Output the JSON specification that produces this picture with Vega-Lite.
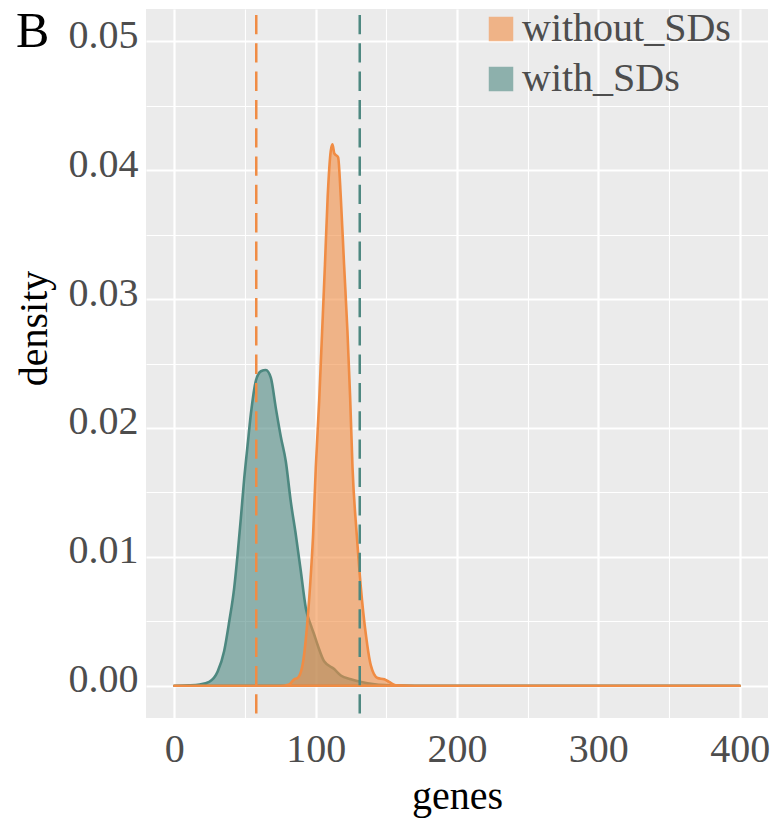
{
  "$schema": "https://vega.github.io/schema/vega-lite/v6.json",
  "width": 622,
  "height": 709,
  "autosize": {"type": "none"},
  "padding": {"left": 146, "top": 9, "right": 11, "bottom": 102},
  "background": "white",
  "config": {
    "view": {"fill": "#EBEBEB", "stroke": null},
    "font": "Liberation Serif"
  },
  "title": {
    "text": "B",
    "anchor": "start",
    "frame": "group",
    "orient": "top",
    "offset": -89,
    "dx": -130,
    "fontSize": 50,
    "font": "Liberation Serif",
    "fontWeight": "normal",
    "color": "black",
    "baseline": "alphabetic"
  },
  "datasets": {
    "curves": [
      {"group": "with_SDs", "genes": 0, "density": 0},
      {"group": "with_SDs", "genes": 10, "density": 0.00003},
      {"group": "with_SDs", "genes": 18, "density": 0.0001},
      {"group": "with_SDs", "genes": 24.7, "density": 0.0003},
      {"group": "with_SDs", "genes": 30.7, "density": 0.0011},
      {"group": "with_SDs", "genes": 35.3, "density": 0.0027},
      {"group": "with_SDs", "genes": 38.9, "density": 0.005},
      {"group": "with_SDs", "genes": 42.4, "density": 0.0076},
      {"group": "with_SDs", "genes": 44.8, "density": 0.0102},
      {"group": "with_SDs", "genes": 47.1, "density": 0.013},
      {"group": "with_SDs", "genes": 49.5, "density": 0.0161},
      {"group": "with_SDs", "genes": 51.9, "density": 0.0187},
      {"group": "with_SDs", "genes": 54.2, "density": 0.0211},
      {"group": "with_SDs", "genes": 57.8, "density": 0.0237},
      {"group": "with_SDs", "genes": 61.3, "density": 0.0244},
      {"group": "with_SDs", "genes": 64.8, "density": 0.0245},
      {"group": "with_SDs", "genes": 68.3, "density": 0.0239},
      {"group": "with_SDs", "genes": 71.9, "density": 0.0215},
      {"group": "with_SDs", "genes": 75.4, "density": 0.0193},
      {"group": "with_SDs", "genes": 78.9, "density": 0.0174},
      {"group": "with_SDs", "genes": 82.4, "density": 0.0143},
      {"group": "with_SDs", "genes": 86, "density": 0.0117},
      {"group": "with_SDs", "genes": 89.5, "density": 0.0089},
      {"group": "with_SDs", "genes": 93.1, "density": 0.006},
      {"group": "with_SDs", "genes": 96.6, "density": 0.0047},
      {"group": "with_SDs", "genes": 98.9, "density": 0.004},
      {"group": "with_SDs", "genes": 101.3, "density": 0.0032},
      {"group": "with_SDs", "genes": 106, "density": 0.0019},
      {"group": "with_SDs", "genes": 113.1, "density": 0.0013},
      {"group": "with_SDs", "genes": 117.8, "density": 0.0008},
      {"group": "with_SDs", "genes": 124.9, "density": 0.0005},
      {"group": "with_SDs", "genes": 136.7, "density": 0.0002},
      {"group": "with_SDs", "genes": 153, "density": 0.00003},
      {"group": "with_SDs", "genes": 170, "density": 0},
      {"group": "with_SDs", "genes": 400, "density": 0},
      {"group": "without_SDs", "genes": 0, "density": 0},
      {"group": "without_SDs", "genes": 75.4, "density": 0},
      {"group": "without_SDs", "genes": 81.3, "density": 0.0001},
      {"group": "without_SDs", "genes": 84.8, "density": 0.0005},
      {"group": "without_SDs", "genes": 87.2, "density": 0.0006},
      {"group": "without_SDs", "genes": 90.7, "density": 0.0016},
      {"group": "without_SDs", "genes": 93.8, "density": 0.0045},
      {"group": "without_SDs", "genes": 96.1, "density": 0.0078},
      {"group": "without_SDs", "genes": 98.2, "density": 0.0117},
      {"group": "without_SDs", "genes": 100.1, "density": 0.0169},
      {"group": "without_SDs", "genes": 102.5, "density": 0.0221},
      {"group": "without_SDs", "genes": 104.6, "density": 0.0275},
      {"group": "without_SDs", "genes": 106.6, "density": 0.0327},
      {"group": "without_SDs", "genes": 108.5, "density": 0.0379},
      {"group": "without_SDs", "genes": 110.7, "density": 0.0415},
      {"group": "without_SDs", "genes": 111.9, "density": 0.042},
      {"group": "without_SDs", "genes": 113.2, "density": 0.0413},
      {"group": "without_SDs", "genes": 115.9, "density": 0.041},
      {"group": "without_SDs", "genes": 117.8, "density": 0.0379},
      {"group": "without_SDs", "genes": 120.1, "density": 0.0327},
      {"group": "without_SDs", "genes": 122.5, "density": 0.0275},
      {"group": "without_SDs", "genes": 124.4, "density": 0.0224},
      {"group": "without_SDs", "genes": 126.1, "density": 0.0169},
      {"group": "without_SDs", "genes": 129.1, "density": 0.0117},
      {"group": "without_SDs", "genes": 132, "density": 0.0076},
      {"group": "without_SDs", "genes": 135.5, "density": 0.004},
      {"group": "without_SDs", "genes": 139, "density": 0.0016},
      {"group": "without_SDs", "genes": 143.8, "density": 0.0006},
      {"group": "without_SDs", "genes": 148.5, "density": 0.0005},
      {"group": "without_SDs", "genes": 152, "density": 0.0003},
      {"group": "without_SDs", "genes": 156.7, "density": 0.00003},
      {"group": "without_SDs", "genes": 170, "density": 0},
      {"group": "without_SDs", "genes": 400, "density": 0}
    ],
    "means": [
      {"group": "without_SDs", "genes": 58},
      {"group": "with_SDs", "genes": 131.2}
    ]
  },
  "layer": [
    {
      "data": {"name": "curves"},
      "transform": [{"filter": "datum.group === 'with_SDs'"}],
      "mark": {"type": "area", "interpolate": "monotone", "fillOpacity": 0.6, "strokeWidth": 2.6, "strokeJoin": "round"},
      "encoding": {
        "x": {
          "field": "genes", "type": "quantitative",
          "scale": {"domain": [-20, 420], "nice": false, "zero": false},
          "axis": {
            "title": "genes",
            "values": [0, 50, 100, 150, 200, 250, 300, 350, 400],
            "format": "d",
            "labelExpr": "datum.value % 100 === 0 ? datum.label : ''",
            "grid": true,
            "gridColor": "white",
            "gridOpacity": 1,
            "gridWidth": {"condition": {"test": "datum.value % 100 === 0", "value": 2.2}, "value": 1.1},
            "ticks": false,
            "tickSize": 0,
            "domain": false,
            "labelFont": "Liberation Serif",
            "labelFontSize": 40,
            "labelColor": "#4D4D4D",
            "labelBaseline": "alphabetic",
            "labelPadding": 43.7,
            "labelOverlap": false,
            "labelFlush": false,
            "titleFont": "Liberation Serif",
            "titleFontSize": 40,
            "titleFontWeight": "normal",
            "titleColor": "black",
            "titleBaseline": "alphabetic",
            "titleAlign": "center",
            "titleX": 311,
            "titleY": 90
          }
        },
        "y": {
          "field": "density", "type": "quantitative",
          "scale": {"domain": [-0.0025, 0.0525], "nice": false, "zero": false},
          "axis": {
            "title": "density",
            "values": [0, 0.005, 0.01, 0.015, 0.02, 0.025, 0.03, 0.035, 0.04, 0.045, 0.05],
            "labelExpr": "round(datum.value * 1000) % 10 === 0 ? format(datum.value, '.2f') : ''",
            "grid": true,
            "gridColor": "white",
            "gridOpacity": 1,
            "gridWidth": {"condition": {"test": "round(datum.value * 1000) % 10 === 0", "value": 2.2}, "value": 1.1},
            "ticks": false,
            "tickSize": 0,
            "domain": false,
            "labelFont": "Liberation Serif",
            "labelFontSize": 40,
            "labelColor": "#4D4D4D",
            "labelAlign": "right",
            "labelBaseline": "alphabetic",
            "labelOffset": 6,
            "labelPadding": 8,
            "labelOverlap": false,
            "labelFlush": false,
            "titleFont": "Liberation Serif",
            "titleFontSize": 40,
            "titleFontWeight": "normal",
            "titleColor": "black",
            "titleAngle": -90,
            "titleBaseline": "alphabetic",
            "titleAlign": "center",
            "titleX": -99.3,
            "titleY": 319
          }
        },
        "fill": {
          "field": "group", "type": "nominal",
          "scale": {"domain": ["without_SDs", "with_SDs"], "range": ["#F28E44", "#4F8982"]},
          "legend": {
            "title": null,
            "orient": "none",
            "legendX": 335,
            "legendY": 0,
            "padding": 0,
            "symbolType": "square",
            "symbolSize": 600,
            "symbolStrokeWidth": 0,
            "symbolOpacity": 0.6,
            "labelFont": "Liberation Serif",
            "labelFontSize": 40,
            "labelColor": "#4D4D4D",
            "labelOffset": 1,
            "labelLimit": 400,
            "rowPadding": 10
          }
        },
        "stroke": {
          "field": "group", "type": "nominal",
          "scale": {"domain": ["without_SDs", "with_SDs"], "range": ["#F08C44", "#4D8880"]},
          "legend": null
        }
      }
    },
    {
      "data": {"name": "curves"},
      "transform": [{"filter": "datum.group === 'without_SDs'"}],
      "mark": {"type": "area", "interpolate": "monotone", "fillOpacity": 0.6, "strokeWidth": 2.6, "strokeJoin": "round"},
      "encoding": {
        "x": {"field": "genes", "type": "quantitative"},
        "y": {"field": "density", "type": "quantitative"},
        "fill": {"field": "group", "type": "nominal"},
        "stroke": {"field": "group", "type": "nominal", "legend": null}
      }
    },
    {
      "data": {"name": "means"},
      "mark": {"type": "rule", "strokeWidth": 2.5, "strokeDash": [19.3, 9], "strokeDashOffset": 22.3},
      "encoding": {
        "x": {"field": "genes", "type": "quantitative"},
        "stroke": {"field": "group", "type": "nominal", "legend": null}
      }
    }
  ]
}
